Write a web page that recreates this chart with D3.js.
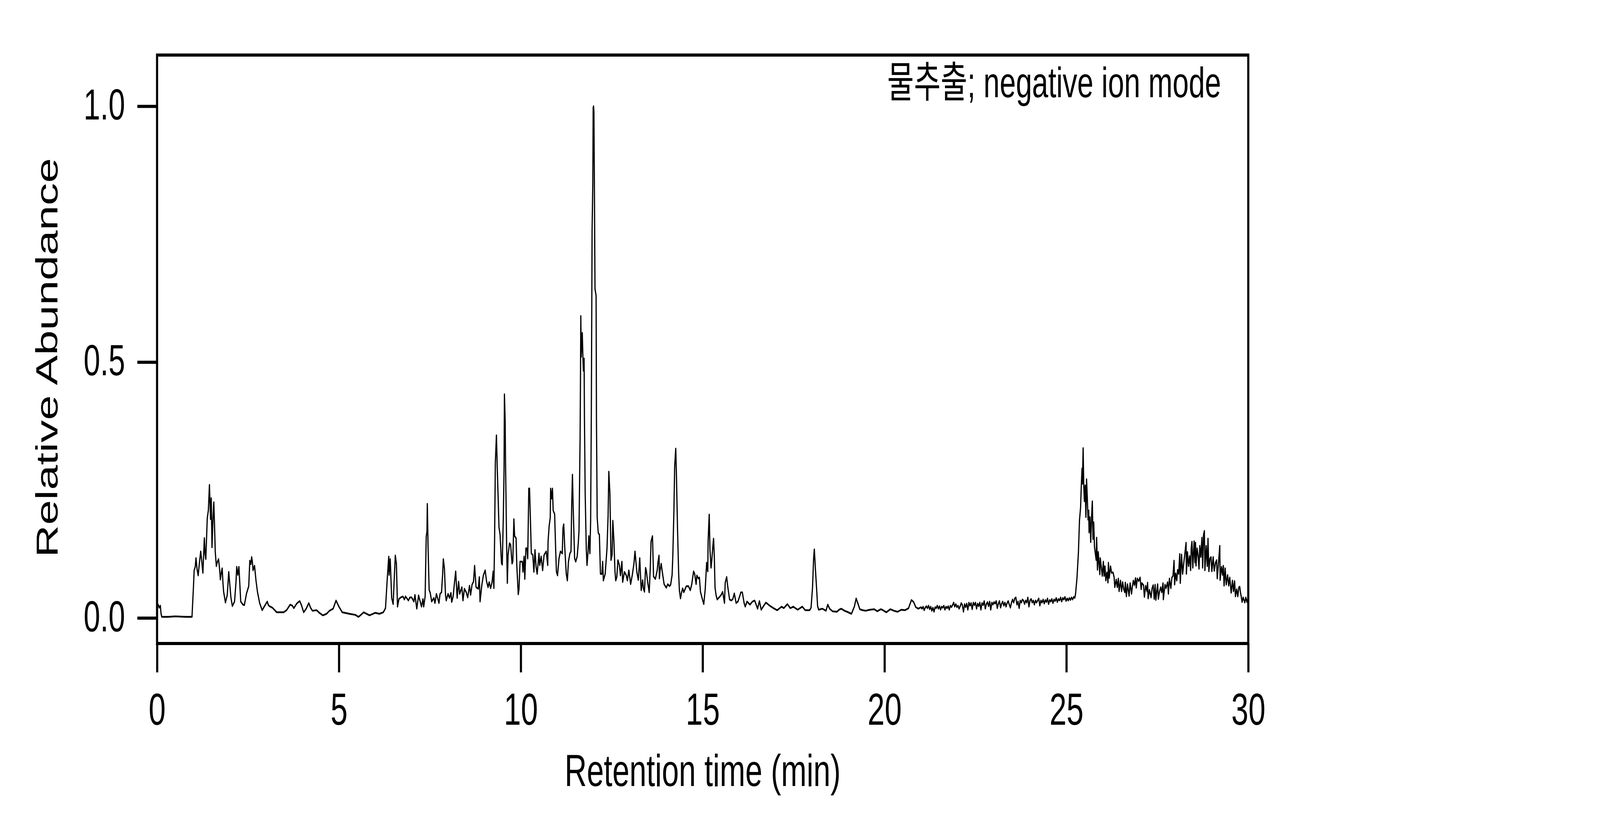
<!DOCTYPE html>
<html>
<head>
<meta charset="utf-8">
<script src="https://cdn.jsdelivr.net/npm/d3@7"></script>
<style>
  html, body { margin: 0; padding: 0; background: #fff; overflow: hidden; width: 100%; height: 100%; }
  svg { display: block; width: 100vw; height: 100vh; }
  text { font-family: "Liberation Sans", Arial, "Noto Sans CJK KR", sans-serif; fill: #000; }
</style>
</head>
<body>
<svg id="chart" viewBox="0 0 6000 2100" preserveAspectRatio="none"></svg>
<script>
// ---- data ----
const annotation = "물추출; negative ion mode";
const xTitle = "Retention time (min)";
const yTitle = "Relative Abundance";
const xTicks = [0, 5, 10, 15, 20, 25, 30];
const yTicks = [0.0, 0.5, 1.0];
const xDomain = [0, 30];
const yDomain = [-0.05, 1.1];

// retention time (min), relative abundance
const tracePoints = [
[0.00,0.026],[0.03,0.026],[0.06,0.020],[0.09,0.024],[0.11,0.008],[0.13,0.002],[0.30,0.002],[0.50,0.003],[0.80,0.002],[0.96,0.002],
[1.00,0.060],[1.02,0.093],[1.05,0.100],[1.07,0.117],[1.10,0.095],[1.13,0.083],[1.16,0.105],[1.20,0.130],[1.23,0.110],[1.26,0.088],
[1.30,0.156],[1.32,0.125],[1.34,0.115],[1.38,0.195],[1.41,0.210],[1.44,0.260],[1.47,0.193],[1.49,0.234],[1.51,0.138],[1.54,0.200],
[1.56,0.226],[1.58,0.180],[1.60,0.129],[1.63,0.101],[1.66,0.110],[1.69,0.115],[1.72,0.095],[1.74,0.075],[1.77,0.090],[1.79,0.097],
[1.81,0.070],[1.83,0.051],[1.88,0.030],[1.93,0.045],[1.97,0.090],[2.00,0.065],[2.03,0.040],[2.07,0.023],[2.13,0.032],[2.17,0.070],
[2.19,0.100],[2.22,0.084],[2.25,0.100],[2.28,0.060],[2.30,0.032],[2.36,0.026],[2.40,0.025],[2.46,0.048],[2.52,0.062],[2.55,0.112],
[2.58,0.105],[2.60,0.119],[2.62,0.110],[2.64,0.093],[2.68,0.102],[2.72,0.073],[2.76,0.051],[2.82,0.029],[2.89,0.015],[2.93,0.020],
[2.97,0.025],[3.03,0.032],[3.06,0.025],[3.09,0.023],[3.17,0.020],[3.29,0.011],[3.40,0.011],[3.48,0.011],[3.56,0.015],[3.66,0.026],
[3.72,0.024],[3.76,0.019],[3.84,0.028],[3.92,0.033],[3.97,0.025],[4.03,0.011],[4.10,0.018],[4.17,0.029],[4.22,0.020],[4.27,0.014],
[4.39,0.015],[4.46,0.010],[4.56,0.005],[4.66,0.008],[4.74,0.014],[4.84,0.018],[4.92,0.034],[4.96,0.028],[5.00,0.022],[5.09,0.011],
[5.29,0.008],[5.45,0.006],[5.54,0.002],[5.68,0.011],[5.84,0.005],[6.00,0.010],[6.11,0.008],[6.22,0.011],[6.28,0.019],[6.33,0.078],
[6.37,0.120],[6.38,0.084],[6.41,0.115],[6.45,0.039],[6.49,0.027],[6.52,0.075],[6.55,0.122],[6.58,0.106],[6.61,0.022],[6.65,0.037],
[6.70,0.040],[6.76,0.042],[6.80,0.036],[6.83,0.042],[6.91,0.034],[6.95,0.040],[7.00,0.040],[7.06,0.032],[7.09,0.045],[7.14,0.018],
[7.19,0.044],[7.27,0.022],[7.31,0.037],[7.33,0.022],[7.37,0.042],[7.40,0.159],[7.42,0.169],[7.43,0.223],[7.45,0.140],[7.48,0.055],
[7.51,0.049],[7.55,0.032],[7.61,0.039],[7.64,0.029],[7.68,0.047],[7.75,0.029],[7.78,0.047],[7.82,0.050],[7.85,0.084],[7.87,0.115],
[7.90,0.097],[7.93,0.045],[7.95,0.034],[8.00,0.047],[8.04,0.039],[8.08,0.049],[8.10,0.031],[8.14,0.042],[8.18,0.071],[8.21,0.091],
[8.25,0.039],[8.29,0.071],[8.32,0.047],[8.38,0.060],[8.41,0.034],[8.45,0.057],[8.50,0.050],[8.54,0.040],[8.59,0.063],[8.62,0.045],
[8.66,0.065],[8.70,0.071],[8.73,0.102],[8.77,0.060],[8.83,0.057],[8.86,0.080],[8.88,0.032],[8.93,0.065],[8.97,0.083],[9.02,0.093],
[9.06,0.071],[9.10,0.060],[9.13,0.070],[9.17,0.058],[9.21,0.070],[9.24,0.091],[9.26,0.058],[9.28,0.156],[9.30,0.303],[9.33,0.357],
[9.35,0.300],[9.38,0.228],[9.40,0.177],[9.43,0.163],[9.47,0.107],[9.49,0.104],[9.52,0.199],[9.54,0.293],[9.55,0.437],[9.57,0.385],
[9.58,0.306],[9.61,0.146],[9.63,0.068],[9.65,0.123],[9.69,0.146],[9.72,0.143],[9.76,0.106],[9.78,0.110],[9.81,0.193],[9.83,0.160],
[9.87,0.156],[9.89,0.103],[9.93,0.046],[9.95,0.056],[9.98,0.110],[10.04,0.110],[10.06,0.090],[10.09,0.120],[10.11,0.076],[10.14,0.136],
[10.17,0.136],[10.19,0.116],[10.22,0.253],[10.24,0.253],[10.26,0.203],[10.29,0.126],[10.33,0.123],[10.36,0.090],[10.39,0.133],[10.42,0.100],
[10.45,0.086],[10.50,0.126],[10.52,0.103],[10.56,0.120],[10.60,0.093],[10.64,0.123],[10.70,0.130],[10.74,0.103],[10.75,0.150],[10.78,0.180],
[10.81,0.196],[10.82,0.253],[10.85,0.233],[10.87,0.253],[10.89,0.210],[10.93,0.203],[10.96,0.130],[10.98,0.090],[11.01,0.083],[11.05,0.116],
[11.09,0.130],[11.14,0.126],[11.16,0.176],[11.18,0.183],[11.21,0.136],[11.25,0.086],[11.28,0.073],[11.31,0.110],[11.35,0.126],[11.38,0.130],
[11.40,0.223],[11.42,0.280],[11.44,0.216],[11.48,0.116],[11.51,0.110],[11.55,0.120],[11.58,0.146],[11.60,0.170],[11.63,0.350],[11.64,0.457],
[11.65,0.590],[11.66,0.510],[11.69,0.557],[11.71,0.503],[11.72,0.483],[11.74,0.507],[11.75,0.390],[11.77,0.243],[11.80,0.136],[11.82,0.103],
[11.85,0.130],[11.87,0.160],[11.90,0.126],[11.92,0.190],[11.94,0.416],[11.96,0.757],[11.98,0.850],[11.99,0.997],[12.00,1.000],[12.01,0.990],
[12.02,0.883],[12.04,0.643],[12.07,0.630],[12.08,0.390],[12.10,0.196],[12.13,0.166],[12.16,0.163],[12.19,0.086],[12.23,0.086],[12.25,0.110],
[12.27,0.073],[12.32,0.086],[12.37,0.136],[12.40,0.200],[12.42,0.286],[12.45,0.243],[12.48,0.113],[12.51,0.123],[12.53,0.190],[12.56,0.150],
[12.59,0.090],[12.61,0.073],[12.64,0.080],[12.67,0.113],[12.71,0.103],[12.74,0.083],[12.78,0.110],[12.80,0.070],[12.85,0.090],[12.90,0.083],
[12.93,0.073],[12.97,0.093],[13.02,0.066],[13.07,0.086],[13.11,0.106],[13.14,0.130],[13.17,0.106],[13.19,0.090],[13.23,0.074],[13.27,0.117],
[13.31,0.054],[13.35,0.074],[13.37,0.058],[13.40,0.051],[13.43,0.098],[13.45,0.093],[13.49,0.069],[13.53,0.050],[13.56,0.098],[13.58,0.149],
[13.62,0.160],[13.65,0.081],[13.70,0.076],[13.75,0.093],[13.77,0.108],[13.80,0.122],[13.81,0.077],[13.83,0.093],[13.86,0.106],[13.89,0.090],
[13.94,0.066],[14.00,0.059],[14.04,0.066],[14.09,0.062],[14.12,0.065],[14.16,0.084],[14.18,0.123],[14.21,0.212],[14.23,0.295],[14.25,0.320],
[14.26,0.331],[14.28,0.276],[14.29,0.240],[14.31,0.170],[14.34,0.087],[14.36,0.054],[14.39,0.038],[14.42,0.050],[14.45,0.058],[14.48,0.050],
[14.55,0.062],[14.61,0.062],[14.66,0.054],[14.70,0.066],[14.75,0.091],[14.78,0.086],[14.82,0.066],[14.84,0.083],[14.88,0.077],[14.91,0.079],
[14.94,0.051],[14.99,0.037],[15.03,0.027],[15.07,0.056],[15.11,0.108],[15.14,0.091],[15.15,0.151],[15.18,0.202],[15.20,0.134],[15.23,0.098],
[15.25,0.112],[15.28,0.140],[15.30,0.155],[15.32,0.120],[15.34,0.059],[15.37,0.044],[15.40,0.036],[15.45,0.040],[15.50,0.044],[15.55,0.051],
[15.60,0.029],[15.62,0.069],[15.66,0.080],[15.69,0.061],[15.74,0.036],[15.79,0.034],[15.83,0.037],[15.87,0.048],[15.92,0.029],[15.97,0.032],
[16.02,0.043],[16.05,0.050],[16.09,0.050],[16.14,0.029],[16.17,0.022],[16.22,0.032],[16.30,0.026],[16.37,0.032],[16.43,0.034],[16.51,0.018],
[16.56,0.033],[16.61,0.016],[16.68,0.024],[16.74,0.030],[16.84,0.024],[16.95,0.019],[17.05,0.015],[17.17,0.022],[17.23,0.019],[17.33,0.027],
[17.41,0.019],[17.49,0.022],[17.61,0.016],[17.74,0.022],[17.82,0.015],[17.94,0.015],[17.98,0.020],[18.02,0.059],[18.05,0.116],[18.07,0.134],
[18.10,0.095],[18.13,0.060],[18.16,0.023],[18.19,0.016],[18.29,0.018],[18.39,0.014],[18.44,0.026],[18.49,0.018],[18.57,0.013],[18.69,0.012],
[18.75,0.016],[18.81,0.018],[18.90,0.014],[18.97,0.012],[19.09,0.008],[19.17,0.022],[19.22,0.038],[19.26,0.030],[19.32,0.017],[19.40,0.015],
[19.48,0.014],[19.60,0.016],[19.72,0.017],[19.80,0.013],[19.90,0.017],[19.96,0.015],[20.05,0.011],[20.16,0.017],[20.26,0.014],[20.36,0.012],
[20.46,0.016],[20.56,0.015],[20.66,0.019],[20.74,0.035],[20.80,0.031],[20.86,0.021],[20.93,0.018],[21.00,0.021],
[21.03,0.018],[21.06,0.022],[21.09,0.015],[21.12,0.020],[21.15,0.023],[21.18,0.019],[21.21,0.024],[21.24,0.017],[21.27,0.022],[21.30,0.014],
[21.33,0.020],[21.36,0.012],[21.39,0.021],[21.42,0.019],[21.45,0.024],[21.48,0.018],[21.51,0.023],[21.54,0.016],[21.57,0.022],[21.60,0.020],
[21.63,0.024],[21.66,0.016],[21.69,0.022],[21.72,0.019],[21.75,0.023],[21.78,0.016],[21.81,0.024],[21.84,0.021],[21.87,0.025],[21.90,0.030],
[21.93,0.022],[21.96,0.027],[21.99,0.021],[22.02,0.024],[22.05,0.018],[22.08,0.023],[22.11,0.029],[22.14,0.025],[22.17,0.012],[22.20,0.027],
[22.23,0.021],[22.26,0.028],[22.29,0.016],[22.32,0.030],[22.35,0.024],[22.38,0.029],[22.41,0.017],[22.44,0.030],[22.47,0.025],[22.50,0.030],
[22.53,0.018],[22.56,0.028],[22.59,0.023],[22.62,0.030],[22.65,0.016],[22.68,0.029],[22.71,0.025],[22.74,0.033],[22.77,0.018],[22.80,0.027],
[22.83,0.031],[22.86,0.023],[22.89,0.032],[22.92,0.016],[22.95,0.030],[22.98,0.026],[23.01,0.031],[23.04,0.028],[23.07,0.033],[23.10,0.019],
[23.13,0.028],[23.16,0.033],[23.19,0.020],[23.22,0.028],[23.25,0.032],[23.28,0.024],[23.31,0.030],[23.34,0.022],[23.37,0.029],[23.40,0.033],
[23.43,0.026],[23.46,0.020],[23.49,0.030],[23.52,0.036],[23.55,0.030],[23.58,0.038],[23.61,0.040],[23.64,0.026],[23.67,0.032],[23.70,0.019],
[23.73,0.034],[23.76,0.030],[23.79,0.036],[23.82,0.034],[23.85,0.027],[23.88,0.034],[23.91,0.030],[23.94,0.040],[23.97,0.022],[24.00,0.034],
[24.03,0.037],[24.06,0.030],[24.09,0.034],[24.12,0.026],[24.15,0.034],[24.18,0.030],[24.21,0.034],[24.24,0.038],[24.27,0.024],[24.30,0.034],
[24.33,0.030],[24.36,0.036],[24.39,0.028],[24.42,0.035],[24.45,0.031],[24.48,0.038],[24.51,0.027],[24.54,0.035],[24.57,0.032],[24.60,0.037],
[24.63,0.029],[24.66,0.036],[24.69,0.033],[24.72,0.039],[24.75,0.031],[24.78,0.037],[24.81,0.034],[24.84,0.040],[24.87,0.032],[24.90,0.039],
[24.93,0.036],[24.96,0.041],[24.99,0.033],[25.02,0.038],[25.05,0.034],[25.08,0.039],[25.11,0.035],[25.14,0.040],[25.17,0.036],[25.20,0.041],
[25.23,0.039],[25.25,0.046],[25.29,0.077],[25.33,0.127],[25.36,0.191],[25.39,0.216],[25.41,0.259],[25.43,0.292],[25.44,0.262],[25.46,0.332],
[25.477,0.259],[25.495,0.228],[25.516,0.259],[25.536,0.197],[25.554,0.271],[25.574,0.236],[25.595,0.192],[25.613,0.210],[25.624,0.167],[25.648,0.197],
[25.669,0.148],[25.692,0.197],[25.713,0.228],[25.731,0.154],[25.751,0.187],[25.772,0.139],[25.795,0.126],[25.819,0.113],[25.831,0.157],[25.854,0.094],
[25.875,0.129],[25.898,0.106],[25.919,0.085],[25.931,0.117],[25.957,0.101],[25.987,0.082],[26.016,0.110],[26.037,0.082],[26.060,0.101],[26.084,0.073],
[26.113,0.089],[26.143,0.069],[26.155,0.108],[26.178,0.078],[26.213,0.101],[26.243,0.088],[26.281,0.089],[26.311,0.080],[26.331,0.060],[26.370,0.075],
[26.399,0.060],[26.428,0.077],[26.449,0.052],[26.487,0.073],[26.517,0.052],[26.546,0.070],[26.576,0.056],[26.605,0.050],[26.620,0.069],[26.649,0.042],
[26.679,0.066],[26.723,0.043],[26.752,0.068],[26.791,0.047],[26.811,0.060],[26.841,0.073],[26.870,0.064],[26.900,0.078],[26.920,0.059],[26.950,0.077],
[26.988,0.072],[27.026,0.079],[27.056,0.056],[27.076,0.068],[27.121,0.064],[27.144,0.041],[27.180,0.063],[27.215,0.052],[27.232,0.069],[27.247,0.038],
[27.283,0.055],[27.327,0.040],[27.356,0.058],[27.386,0.064],[27.415,0.037],[27.439,0.065],[27.459,0.035],[27.489,0.055],[27.509,0.066],[27.527,0.037],
[27.562,0.052],[27.592,0.060],[27.621,0.050],[27.656,0.068],[27.665,0.036],[27.710,0.065],[27.739,0.058],[27.783,0.070],[27.804,0.047],[27.833,0.077],
[27.872,0.058],[27.901,0.079],[27.930,0.082],[27.960,0.112],[27.975,0.065],[28.004,0.087],[28.034,0.073],[28.057,0.094],[28.087,0.086],[28.116,0.125],
[28.131,0.068],[28.166,0.124],[28.195,0.086],[28.225,0.106],[28.254,0.124],[28.290,0.147],[28.299,0.086],[28.328,0.129],[28.357,0.101],[28.387,0.121],
[28.416,0.093],[28.431,0.136],[28.452,0.149],[28.475,0.098],[28.511,0.150],[28.534,0.108],[28.549,0.147],[28.564,0.102],[28.593,0.136],[28.622,0.121],
[28.646,0.096],[28.667,0.141],[28.696,0.119],[28.726,0.157],[28.746,0.098],[28.770,0.162],[28.793,0.170],[28.808,0.093],[28.843,0.141],[28.873,0.101],
[28.893,0.155],[28.917,0.091],[28.946,0.116],[28.976,0.119],[28.999,0.091],[29.035,0.119],[29.064,0.092],[29.100,0.108],[29.129,0.113],[29.147,0.077],
[29.182,0.108],[29.217,0.141],[29.226,0.074],[29.265,0.100],[29.294,0.084],[29.315,0.102],[29.335,0.063],[29.365,0.097],[29.394,0.065],[29.432,0.084],
[29.462,0.063],[29.491,0.079],[29.530,0.049],[29.565,0.073],[29.594,0.052],[29.624,0.072],[29.647,0.042],[29.683,0.056],[29.712,0.042],[29.742,0.060],
[29.765,0.061],[29.786,0.050],[29.806,0.042],[29.830,0.031],[29.859,0.040],[29.904,0.030],[29.933,0.040],[29.963,0.031],[29.992,0.038],[30.00,0.036]
];

// ---- layout (in the 6000 x 2100 reference frame) ----
const plot = { left: 589, right: 4681, top: 141, bottom: 1648 };
const svg = d3.select("#chart");

const x = d3.scaleLinear().domain(xDomain).range([plot.left, plot.right]);
const y = d3.scaleLinear().domain(yDomain).range([plot.bottom, plot.top]);

svg.append("rect").attr("x", 0).attr("y", 0).attr("width", 6000).attr("height", 2100).attr("fill", "#fff");

// clip for the trace
svg.append("defs").append("clipPath").attr("id", "plotClip")
  .append("rect")
  .attr("x", plot.left).attr("y", plot.top)
  .attr("width", plot.right - plot.left).attr("height", plot.bottom - plot.top);

// trace
const line = d3.line().x(d => x(d[0])).y(d => y(d[1]));
svg.append("path")
  .datum(tracePoints)
  .attr("clip-path", "url(#plotClip)")
  .attr("fill", "none")
  .attr("stroke", "#000")
  .attr("stroke-width", 4.5)
  .attr("stroke-linejoin", "round")
  .attr("d", line);

// frame
svg.append("rect")
  .attr("x", plot.left).attr("y", plot.top)
  .attr("width", plot.right - plot.left).attr("height", plot.bottom - plot.top)
  .attr("fill", "none").attr("stroke", "#000").attr("stroke-width", 8);

// x axis
const xAxis = d3.axisBottom(x).tickValues(xTicks).tickFormat(d3.format("d"))
  .tickSize(74).tickPadding(52);
const gx = svg.append("g").attr("transform", `translate(0,${plot.bottom})`).call(xAxis);
gx.select(".domain").remove();
gx.selectAll(".tick line").attr("stroke", "#000").attr("stroke-width", 8);
gx.selectAll(".tick text").attr("font-size", 115).attr("font-family", null).attr("dy", "0.71em");

// y axis
const yAxis = d3.axisLeft(y).tickValues(yTicks).tickFormat(d3.format(".1f"))
  .tickSize(74).tickPadding(46);
const gy = svg.append("g").attr("transform", `translate(${plot.left},0)`).call(yAxis);
gy.select(".domain").remove();
gy.selectAll(".tick line").attr("stroke", "#000").attr("stroke-width", 8);
gy.selectAll(".tick text").attr("font-size", 112).attr("font-family", null).attr("dy", "0.30em");

// axis titles
svg.append("text")
  .attr("x", (plot.left + plot.right) / 2)
  .attr("y", 2013)
  .attr("text-anchor", "middle")
  .attr("font-size", 115)
  .text(xTitle);

svg.append("text")
  .attr("transform", `translate(215,916) rotate(-90)`)
  .attr("text-anchor", "middle")
  .attr("font-size", 115)
  .text(yTitle);

// annotation
svg.append("text")
  .attr("x", 4579)
  .attr("y", 249)
  .attr("text-anchor", "end")
  .attr("font-size", 109)
  .text(annotation);
</script>
</body>
</html>
